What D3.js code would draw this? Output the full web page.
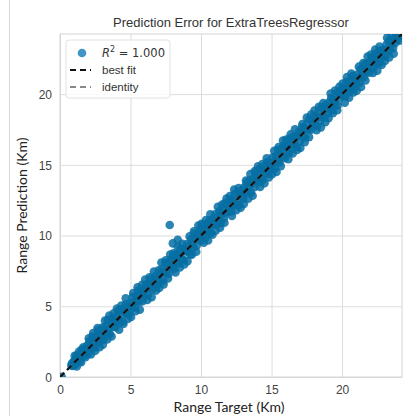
<!DOCTYPE html>
<html>
<head>
<meta charset="utf-8">
<script src="https://cdn.jsdelivr.net/npm/d3@7"></script>
<style>
  body { margin: 0; background: #fff; }
  svg { display: block; }
  .tick text { font-family: "Liberation Sans", Arial, sans-serif; font-size: 12px; fill: #444; }
  .grid line { stroke: #dcdcdc; stroke-width: 1; }
  .grid path { stroke: none; }
</style>
</head>
<body>
<svg id="chart" width="403" height="416"></svg>
<script>
// true range vs. model prediction, km
var rangeTarget = [
  0.12, 0.80, 0.86, 0.92,
  1.00, 1.08, 1.15, 1.23, 1.31, 1.38, 1.46, 1.54, 1.62, 1.69, 1.77, 1.85, 1.92,
  2.00, 2.08, 2.15, 2.23, 2.31, 2.38, 2.46, 2.54, 2.62, 2.69, 2.77, 2.85, 2.92,
  3.00, 3.08, 3.15, 3.23, 3.31, 3.38, 3.46, 3.54, 3.62, 3.69, 3.77, 3.85, 3.92,
  4.00, 4.08, 4.15, 4.23, 4.31, 4.38, 4.46, 4.54, 4.62, 4.69, 4.77, 4.85, 4.92,
  5.00, 5.08, 5.15, 5.23, 5.31, 5.38, 5.46, 5.54, 5.62, 5.69, 5.77, 5.85, 5.92,
  6.00, 6.08, 6.15, 6.23, 6.31, 6.38, 6.46, 6.54, 6.62, 6.69, 6.77, 6.85, 6.92,
  7.00, 7.08, 7.15, 7.23, 7.31, 7.38, 7.46, 7.54, 7.62, 7.69, 7.77, 7.85, 7.92,
  8.00, 8.08, 8.15, 8.23, 8.31, 8.38, 8.46, 8.54, 8.62, 8.69, 8.77, 8.85, 8.92,
  9.00, 9.08, 9.15, 9.23, 9.31, 9.38, 9.46, 9.54, 9.62, 9.69, 9.77, 9.85, 9.92,
  10.00, 10.08, 10.15, 10.23, 10.31, 10.38, 10.46, 10.54, 10.62, 10.69, 10.77, 10.85, 10.92,
  11.00, 11.08, 11.15, 11.23, 11.31, 11.38, 11.46, 11.54, 11.62, 11.69, 11.77, 11.85, 11.92,
  12.00, 12.08, 12.15, 12.23, 12.31, 12.38, 12.46, 12.54, 12.62, 12.69, 12.77, 12.85, 12.92,
  13.00, 13.08, 13.15, 13.23, 13.31, 13.38, 13.46, 13.54, 13.62, 13.69, 13.77, 13.85, 13.92,
  14.00, 14.08, 14.15, 14.23, 14.31, 14.38, 14.46, 14.54, 14.62, 14.69, 14.77, 14.85, 14.92,
  15.00, 15.08, 15.15, 15.23, 15.31, 15.38, 15.46, 15.54, 15.62, 15.69, 15.77, 15.85, 15.92,
  16.00, 16.08, 16.15, 16.23, 16.31, 16.38, 16.46, 16.54, 16.62, 16.69, 16.77, 16.85, 16.92,
  17.00, 17.08, 17.15, 17.23, 17.31, 17.38, 17.46, 17.54, 17.62, 17.69, 17.77, 17.85, 17.92,
  18.00, 18.08, 18.15, 18.23, 18.31, 18.38, 18.46, 18.54, 18.62, 18.69, 18.77, 18.85, 18.92,
  19.00, 19.08, 19.15, 19.23, 19.31, 19.38, 19.46, 19.54, 19.62, 19.69, 19.77, 19.85, 19.92,
  20.00, 20.08, 20.15, 20.23, 20.31, 20.38, 20.46, 20.54, 20.62, 20.69, 20.77, 20.85, 20.92,
  21.00, 21.08, 21.15, 21.23, 21.31, 21.38, 21.46, 21.54, 21.62, 21.69, 21.77, 21.85, 21.92,
  22.00, 22.08, 22.15, 22.23, 22.31, 22.38, 22.46, 22.54, 22.62, 22.69, 22.77, 22.85, 22.92,
  23.00, 23.08, 23.15, 23.23, 23.31, 23.38, 23.46, 23.54, 23.62, 23.69, 23.77, 23.85, 23.92,
  24.00, 24.08, 24.15, 24.23,
  // wider residuals along the edges of the band
  1.04, 1.19, 1.35, 1.50, 1.66, 1.81,
  2.04, 2.19, 2.35, 2.50, 2.66, 2.81,
  3.04, 3.19, 3.35, 3.50, 3.66, 3.81,
  4.04, 4.19, 4.35, 4.50, 4.66, 4.81,
  5.04, 5.19, 5.35, 5.50, 5.66, 5.81,
  6.04, 6.19, 6.35, 6.50, 6.66, 6.81,
  7.04, 7.19, 7.35, 7.50, 7.66, 7.81,
  8.04, 8.19, 8.35, 8.50, 8.66, 8.81,
  9.04, 9.19, 9.35, 9.50, 9.66, 9.81,
  10.04, 10.19, 10.35, 10.50, 10.66, 10.81,
  11.04, 11.19, 11.35, 11.50, 11.66, 11.81,
  12.04, 12.19, 12.35, 12.50, 12.66, 12.81,
  13.04, 13.19, 13.35, 13.50, 13.66, 13.81,
  14.04, 14.19, 14.35, 14.50, 14.66, 14.81,
  15.04, 15.19, 15.35, 15.50, 15.66, 15.81,
  16.04, 16.19, 16.35, 16.50, 16.66, 16.81,
  17.04, 17.19, 17.35, 17.50, 17.66, 17.81,
  18.04, 18.19, 18.35, 18.50, 18.66, 18.81,
  19.04, 19.19, 19.35, 19.50, 19.66, 19.81,
  20.04, 20.19, 20.35, 20.50, 20.66, 20.81,
  21.04, 21.19, 21.35, 21.50, 21.66, 21.81,
  22.04, 22.19, 22.35, 22.50, 22.66, 22.81,
  23.04, 23.19, 23.35, 23.50, 23.66, 23.81,
  // off-band points
  7.78, 8.00, 8.35
];
var rangePrediction = [
  0.02, 0.82, 0.98, 0.78,
  1.15, 0.88, 1.50, 1.18, 1.56, 1.08, 1.56, 1.94, 1.47, 1.89, 1.52, 1.90, 2.22,
  1.65, 2.53, 2.15, 2.03, 2.86, 2.53, 2.06, 2.84, 2.52, 3.29, 2.47, 3.05, 2.87,
  3.50, 2.63, 3.25, 3.58, 3.06, 4.03, 3.41, 3.04, 3.87, 4.14, 3.57, 3.90, 3.52,
  4.30, 3.93, 4.70, 3.88, 4.36, 4.78, 3.91, 4.74, 4.52, 5.14, 4.47, 5.00, 4.47,
  5.25, 4.88, 5.65, 5.23, 4.91, 5.73, 5.36, 6.09, 5.32, 5.84, 6.17, 5.35, 5.97,
  5.75, 6.53, 6.25, 5.78, 6.61, 6.33, 6.96, 6.19, 6.82, 6.54, 7.12, 6.45, 6.97,
  7.55, 6.78, 7.30, 7.63, 6.81, 7.43, 8.06, 7.34, 7.92, 7.29, 7.87, 8.30, 7.82,
  8.20, 7.63, 8.65, 8.13, 8.66, 8.03, 8.51, 9.09, 8.37, 8.94, 8.27, 9.00, 8.87,
  9.40, 8.88, 9.25, 8.68, 9.76, 9.38, 9.16, 10.14, 9.77, 9.29, 10.07, 9.75, 10.42,
  9.65, 10.33, 10.10, 10.78, 9.86, 10.48, 10.81, 10.34, 11.07, 10.19, 10.82, 11.15, 10.77,
  11.50, 10.78, 11.30, 11.13, 11.71, 10.88, 11.51, 11.79, 11.22, 12.29, 11.62, 12.20, 11.67,
  12.10, 12.53, 11.70, 12.43, 12.16, 12.93, 12.16, 12.54, 13.02, 12.14, 13.02, 12.80, 13.22,
  12.60, 13.43, 13.05, 13.73, 13.06, 13.53, 13.91, 13.04, 13.67, 13.99, 13.42, 14.45, 13.87,
  14.25, 13.78, 14.70, 14.08, 14.71, 13.93, 14.56, 14.89, 14.42, 15.19, 14.37, 14.90, 15.12,
  14.75, 15.53, 15.15, 14.73, 15.61, 15.28, 16.06, 15.19, 15.77, 16.09, 15.57, 16.35, 15.47,
  16.35, 15.93, 16.35, 15.83, 16.86, 16.43, 16.16, 16.99, 16.57, 16.94, 16.27, 17.00, 17.32,
  16.65, 17.18, 17.65, 17.03, 17.61, 16.93, 17.51, 17.94, 17.52, 18.24, 17.47, 18.05, 17.87,
  18.45, 17.83, 18.30, 17.73, 18.66, 18.38, 18.11, 19.09, 18.47, 18.94, 18.37, 19.25, 18.97,
  18.70, 19.43, 19.10, 19.73, 18.86, 19.58, 19.51, 19.29, 20.07, 19.19, 20.07, 19.75, 20.07,
  20.40, 19.88, 20.40, 19.83, 20.86, 20.33, 20.61, 20.19, 20.97, 20.54, 21.27, 20.40, 20.97,
  20.75, 21.38, 21.15, 20.78, 21.76, 21.28, 21.66, 21.19, 22.12, 21.74, 21.57, 22.20, 21.52,
  22.30, 21.93, 22.60, 21.88, 22.41, 22.88, 22.21, 22.74, 22.17, 23.04, 22.72, 23.10, 22.62,
  23.15, 22.68, 23.50, 23.13, 23.76, 23.13, 23.51, 23.84, 23.27, 23.89, 23.62, 24.25, 23.87,
  24.10, 23.78, 24.40, 24.13,
  1.50, 0.75, 1.80, 1.05, 2.10, 1.40,
  2.74, 1.59, 3.10, 1.85, 3.46, 2.11,
  2.29, 3.99, 2.65, 4.35, 2.86, 4.51,
  4.84, 3.34, 5.05, 3.75, 5.56, 4.11,
  4.24, 5.94, 4.65, 6.35, 4.76, 6.51,
  6.89, 5.44, 7.05, 5.65, 7.46, 6.11,
  6.29, 8.09, 6.55, 8.25, 6.96, 8.66,
  8.74, 7.39, 9.20, 7.75, 9.41, 7.96,
  8.19, 9.94, 8.65, 10.30, 8.86, 10.71,
  10.84, 9.49, 11.10, 9.65, 11.51, 10.06,
  10.34, 12.04, 10.55, 12.20, 10.91, 12.61,
  12.79, 11.39, 13.25, 11.80, 13.36, 11.96,
  12.24, 13.89, 12.60, 14.35, 12.81, 14.56,
  14.89, 13.44, 15.05, 13.70, 15.46, 14.11,
  14.34, 15.99, 14.50, 16.25, 14.91, 16.71,
  16.79, 15.39, 17.15, 15.80, 17.51, 16.06,
  16.19, 17.89, 16.60, 18.35, 16.96, 18.56,
  18.84, 17.44, 19.10, 17.65, 19.36, 18.01,
  18.29, 20.04, 18.65, 20.25, 18.86, 20.51,
  20.74, 19.39, 21.20, 19.75, 21.46, 20.11,
  20.24, 21.94, 20.50, 22.20, 20.96, 22.66,
  22.79, 21.49, 23.15, 21.65, 23.36, 22.06,
  22.34, 23.99, 22.60, 24.20, 22.86, 24.41,
  10.75, 9.45, 9.70
];
var axisTicks = [0, 5, 10, 15, 20];
var axisMax = 24.25;
var r2Label = "1.000";

var svg = d3.select("#chart");
var margin = {top: 34, right: 1, bottom: 39, left: 60};
var width = +svg.attr("width") - margin.left - margin.right;
var height = +svg.attr("height") - margin.top - margin.bottom;

var pointColor = "#066ea3";
var pointRadius = 4.3;

// thin frame line at the far left of the figure
svg.append("line")
    .attr("x1", 9.5).attr("x2", 9.5)
    .attr("y1", 0).attr("y2", 416)
    .attr("stroke", "#d6d6d6")
    .attr("stroke-width", 1);

var x = d3.scaleLinear().domain([0, axisMax]).range([0, width]);
var y = d3.scaleLinear().domain([0, axisMax]).range([height, 0]);

var g = svg.append("g")
    .attr("transform", "translate(" + margin.left + "," + margin.top + ")");

g.append("defs").append("clipPath")
    .attr("id", "plot-clip")
  .append("rect")
    .attr("width", width)
    .attr("height", height);

// grid + tick labels
g.append("g")
    .attr("class", "grid axis-x")
    .attr("transform", "translate(0," + height + ")")
    .call(d3.axisBottom(x).tickValues(axisTicks).tickSize(-height).tickPadding(8));

g.append("g")
    .attr("class", "grid axis-y")
    .call(d3.axisLeft(y).tickValues(axisTicks).tickSize(-width).tickPadding(8));

g.selectAll(".axis-y .tick text").attr("dy", "0.35em");

// plot frame
g.append("rect")
    .attr("width", width)
    .attr("height", height)
    .attr("fill", "none")
    .attr("stroke", "#d4d4d4")
    .attr("stroke-width", 1);

var points = rangeTarget.map(function(d, i) {
    return {target: d, prediction: rangePrediction[i]};
});

var plot = g.append("g").attr("clip-path", "url(#plot-clip)");

plot.append("g")
    .attr("class", "points")
    .selectAll("circle")
    .data(points)
    .enter().append("circle")
    .attr("cx", function(d) { return x(d.target); })
    .attr("cy", function(d) { return y(d.prediction); })
    .attr("r", pointRadius)
    .attr("fill", pointColor)
    .attr("fill-opacity", 0.85);

// identity line, then best fit drawn over it
plot.append("line")
    .attr("x1", x(0)).attr("y1", y(0))
    .attr("x2", x(axisMax)).attr("y2", y(axisMax))
    .attr("stroke", "#888")
    .attr("stroke-width", 2)
    .attr("stroke-dasharray", "6,4");

plot.append("line")
    .attr("x1", x(0)).attr("y1", y(0))
    .attr("x2", x(axisMax)).attr("y2", y(axisMax))
    .attr("stroke", "#111")
    .attr("stroke-width", 2.2)
    .attr("stroke-dasharray", "6,4");

// legend
var legend = g.append("g")
    .attr("transform", "translate(6,6)");

legend.append("rect")
    .attr("width", 104)
    .attr("height", 58)
    .attr("rx", 3)
    .attr("fill", "#fff")
    .attr("fill-opacity", 0.85)
    .attr("stroke", "#e2e2e2");

legend.append("circle")
    .attr("cx", 16).attr("cy", 13)
    .attr("r", pointRadius)
    .attr("fill", "#0072B2")
    .attr("fill-opacity", 0.75);

var r2Text = legend.append("text")
    .attr("x", 36).attr("y", 17)
    .attr("font-family", "DejaVu Sans, sans-serif")
    .attr("font-size", "11.5px")
    .attr("fill", "#333");
r2Text.append("tspan").attr("font-style", "italic").text("R");
r2Text.append("tspan").attr("dy", -5).attr("font-size", "8px").text("2");
r2Text.append("tspan").attr("dy", 5).text(" = " + r2Label);

var legendLines = [
    {label: "best fit", color: "#111", y: 30},
    {label: "identity", color: "#888", y: 47}
];

legendLines.forEach(function(d) {
    legend.append("line")
        .attr("x1", 4).attr("x2", 25)
        .attr("y1", d.y).attr("y2", d.y)
        .attr("stroke", d.color)
        .attr("stroke-width", 2.2)
        .attr("stroke-dasharray", "6,4");
    legend.append("text")
        .attr("x", 36).attr("y", d.y + 4)
        .attr("font-family", "Liberation Sans, Arial, sans-serif")
        .attr("font-size", "11.5px")
        .attr("fill", "#333")
        .text(d.label);
});

// title and axis labels
svg.append("text")
    .attr("x", margin.left + width / 2)
    .attr("y", 27)
    .attr("text-anchor", "middle")
    .attr("font-family", "Liberation Sans, Arial, sans-serif")
    .attr("font-size", "13px")
    .attr("fill", "#333")
    .text("Prediction Error for ExtraTreesRegressor");

svg.append("text")
    .attr("x", 229)
    .attr("y", 412)
    .attr("text-anchor", "middle")
    .attr("font-family", "Lato, sans-serif")
    .attr("font-size", "14px")
    .attr("fill", "#222")
    .text("Range Target (Km)");

svg.append("text")
    .attr("transform", "translate(27," + (margin.top + height / 2) + ") rotate(-90)")
    .attr("text-anchor", "middle")
    .attr("font-family", "Lato, sans-serif")
    .attr("font-size", "14px")
    .attr("fill", "#222")
    .text("Range Prediction (Km)");
</script>
</body>
</html>
